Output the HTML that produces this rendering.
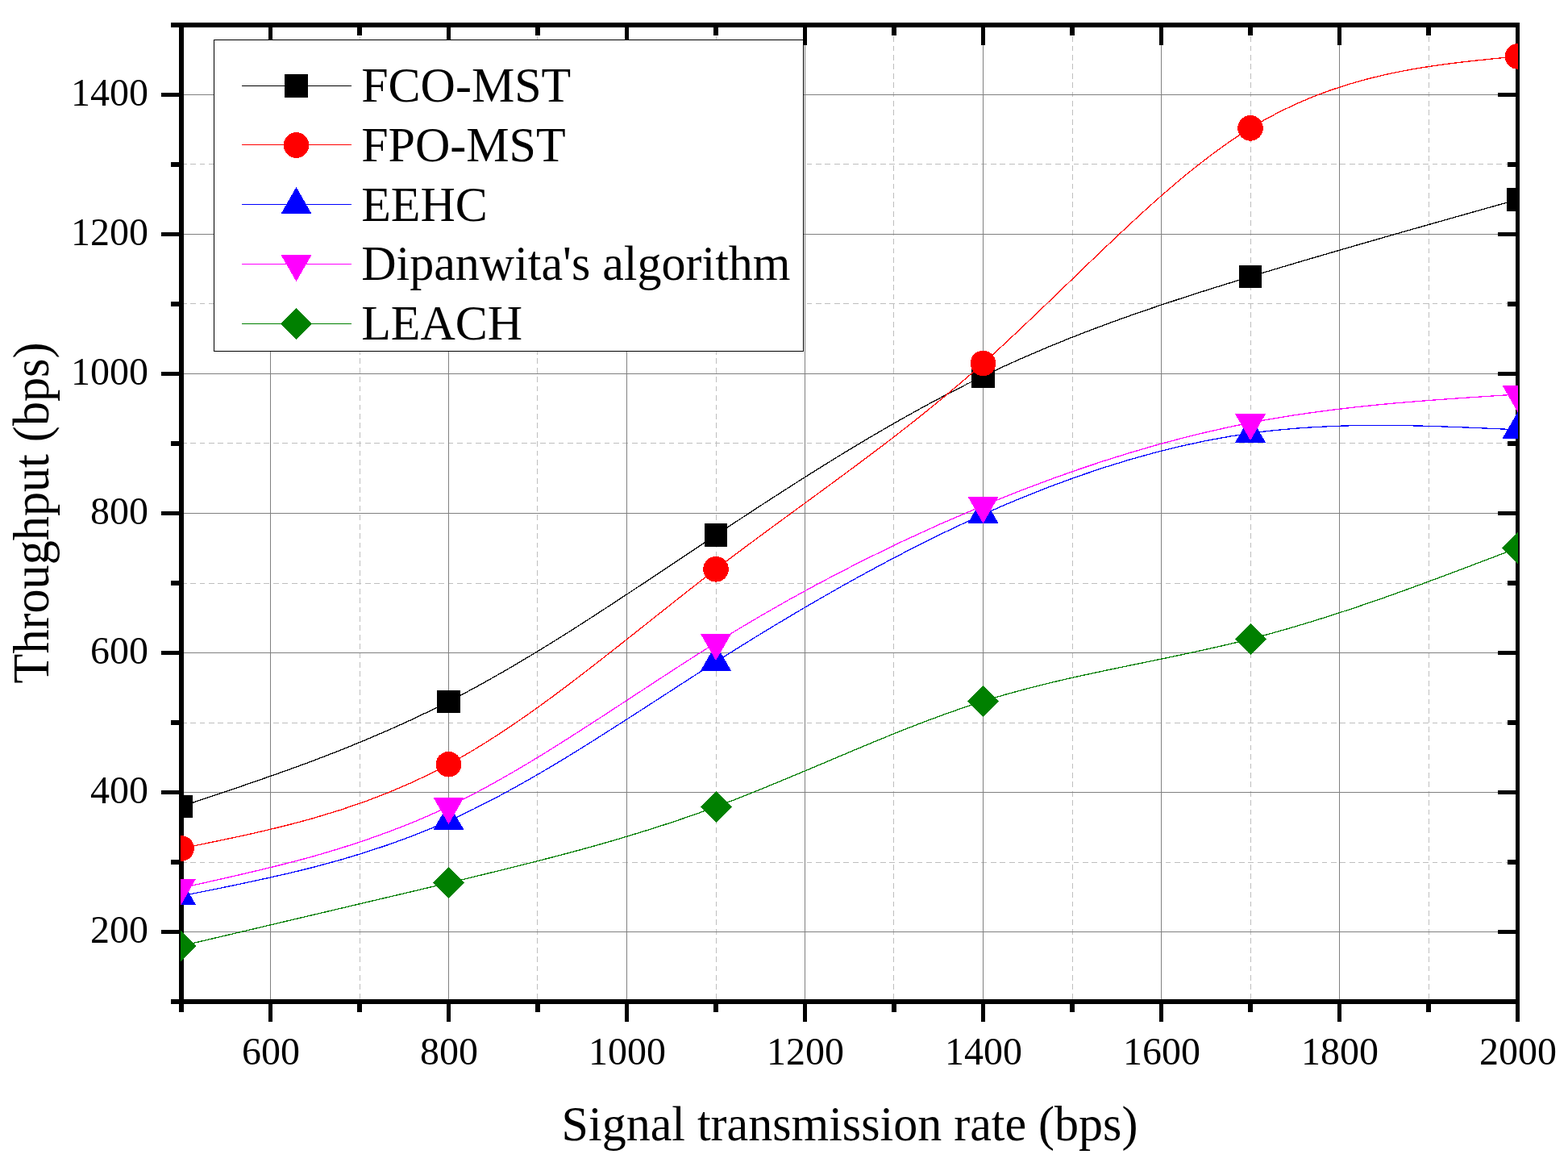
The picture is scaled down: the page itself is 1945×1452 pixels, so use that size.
<!DOCTYPE html>
<html lang="en"><head><meta charset="utf-8"><title>Throughput vs signal transmission rate</title>
<style>html,body{margin:0;padding:0;background:#fff}body{width:1945px;height:1452px;overflow:hidden}svg{display:block}text{font-family:"Liberation Serif","DejaVu Serif",serif;fill:#000}</style></head><body>
<svg width="1945" height="1452" viewBox="0 0 1945 1452">
<rect x="0" y="0" width="1945" height="1452" fill="#fff"/>
<defs><clipPath id="plot"><rect x="224" y="31" width="1659" height="1211"/></clipPath></defs>
<g shape-rendering="crispEdges">
<g stroke="#bebebe" stroke-width="1" stroke-dasharray="6.8 4.61" fill="none"><line x1="446.5" y1="33.7" x2="446.5" y2="1239" /><line x1="666.5" y1="33.7" x2="666.5" y2="1239" /><line x1="888.5" y1="33.7" x2="888.5" y2="1239" /><line x1="1108.5" y1="33.7" x2="1108.5" y2="1239" /><line x1="1330.5" y1="33.7" x2="1330.5" y2="1239" /><line x1="1551.5" y1="33.7" x2="1551.5" y2="1239" /><line x1="1772.5" y1="33.7" x2="1772.5" y2="1239" /><line x1="224.8" y1="1069.5" x2="1880" y2="1069.5" /><line x1="224.8" y1="896.5" x2="1880" y2="896.5" /><line x1="224.8" y1="723.5" x2="1880" y2="723.5" /><line x1="224.8" y1="549.5" x2="1880" y2="549.5" /><line x1="224.8" y1="376.5" x2="1880" y2="376.5" /><line x1="224.8" y1="203.5" x2="1880" y2="203.5" /></g>
<g fill="#808080"><rect x="335" y="34" width="1" height="1205"/><rect x="556" y="34" width="1" height="1205"/><rect x="777" y="34" width="1" height="1205"/><rect x="998" y="34" width="1" height="1205"/><rect x="1219" y="34" width="1" height="1205"/><rect x="1440" y="34" width="1" height="1205"/><rect x="1661" y="34" width="1" height="1205"/><rect x="228" y="1155" width="1652" height="1"/><rect x="228" y="982" width="1652" height="1"/><rect x="228" y="809" width="1652" height="1"/><rect x="228" y="636" width="1652" height="1"/><rect x="228" y="463" width="1652" height="1"/><rect x="228" y="290" width="1652" height="1"/><rect x="228" y="117" width="1652" height="1"/></g>
<g fill="#000"><rect x="222" y="28" width="1663" height="6"/><rect x="222" y="1239" width="1663" height="6"/><rect x="222" y="28" width="6" height="1217"/><rect x="1880" y="28" width="5" height="1217"/><rect x="222" y="1245" width="6" height="10"/><rect x="222" y="34" width="6" height="10"/><rect x="333" y="1245" width="5" height="22"/><rect x="333" y="34" width="5" height="22"/><rect x="443" y="1245" width="6" height="10"/><rect x="443" y="34" width="6" height="10"/><rect x="554" y="1245" width="5" height="22"/><rect x="554" y="34" width="5" height="22"/><rect x="664" y="1245" width="6" height="10"/><rect x="664" y="34" width="6" height="10"/><rect x="775" y="1245" width="5" height="22"/><rect x="775" y="34" width="5" height="22"/><rect x="885" y="1245" width="6" height="10"/><rect x="885" y="34" width="6" height="10"/><rect x="996" y="1245" width="5" height="22"/><rect x="996" y="34" width="5" height="22"/><rect x="1106" y="1245" width="6" height="10"/><rect x="1106" y="34" width="6" height="10"/><rect x="1217" y="1245" width="5" height="22"/><rect x="1217" y="34" width="5" height="22"/><rect x="1327" y="1245" width="6" height="10"/><rect x="1327" y="34" width="6" height="10"/><rect x="1438" y="1245" width="5" height="22"/><rect x="1438" y="34" width="5" height="22"/><rect x="1548" y="1245" width="6" height="10"/><rect x="1548" y="34" width="6" height="10"/><rect x="1659" y="1245" width="5" height="22"/><rect x="1659" y="34" width="5" height="22"/><rect x="1769" y="1245" width="6" height="10"/><rect x="1769" y="34" width="6" height="10"/><rect x="1880" y="1245" width="5" height="22"/><rect x="1880" y="34" width="5" height="22"/><rect x="212" y="1239" width="10" height="6"/><rect x="1870" y="1239" width="10" height="6"/><rect x="200" y="1153" width="22" height="5"/><rect x="1858" y="1153" width="22" height="5"/><rect x="212" y="1066" width="10" height="6"/><rect x="1870" y="1066" width="10" height="6"/><rect x="200" y="980" width="22" height="5"/><rect x="1858" y="980" width="22" height="5"/><rect x="212" y="893" width="10" height="6"/><rect x="1870" y="893" width="10" height="6"/><rect x="200" y="807" width="22" height="5"/><rect x="1858" y="807" width="22" height="5"/><rect x="212" y="720" width="10" height="6"/><rect x="1870" y="720" width="10" height="6"/><rect x="200" y="634" width="22" height="5"/><rect x="1858" y="634" width="22" height="5"/><rect x="212" y="547" width="10" height="6"/><rect x="1870" y="547" width="10" height="6"/><rect x="200" y="461" width="22" height="5"/><rect x="1858" y="461" width="22" height="5"/><rect x="212" y="374" width="10" height="6"/><rect x="1870" y="374" width="10" height="6"/><rect x="200" y="288" width="22" height="5"/><rect x="1858" y="288" width="22" height="5"/><rect x="212" y="201" width="10" height="6"/><rect x="1870" y="201" width="10" height="6"/><rect x="200" y="115" width="22" height="5"/><rect x="1858" y="115" width="22" height="5"/><rect x="212" y="28" width="10" height="6"/><rect x="1870" y="28" width="10" height="6"/></g>
</g>
<g clip-path="url(#plot)" shape-rendering="crispEdges">
<path d="M225.00,1000.00 C335.50,963.27 446.00,926.54 556.50,869.95 C667.00,813.36 777.50,736.90 888.00,663.50 C998.50,590.10 1109.00,519.76 1219.50,466.40 C1330.00,413.04 1440.50,376.66 1551.00,343.00 C1661.50,309.34 1772.00,278.39 1882.50,247.45" fill="none" stroke="#000000" stroke-width="1.3"/>
<rect x="210.75" y="985.75" width="28.50" height="28.50" fill="#000000"/><rect x="542.25" y="855.70" width="28.50" height="28.50" fill="#000000"/><rect x="873.75" y="649.25" width="28.50" height="28.50" fill="#000000"/><rect x="1205.25" y="452.15" width="28.50" height="28.50" fill="#000000"/><rect x="1536.75" y="328.75" width="28.50" height="28.50" fill="#000000"/><rect x="1868.85" y="233.20" width="28.50" height="28.50" fill="#000000"/>
<path d="M225.00,1051.97 C335.50,1029.74 446.00,1007.51 556.50,947.70 C667.00,887.89 777.50,790.50 888.00,705.80 C998.50,621.10 1109.00,549.08 1219.50,450.50 C1330.00,351.92 1440.50,226.76 1551.00,158.90 C1661.50,91.04 1772.00,80.47 1882.50,69.90" fill="none" stroke="#ff0000" stroke-width="1.3"/>
<circle cx="225.00" cy="1051.97" r="15.80" fill="#ff0000"/><circle cx="556.50" cy="947.70" r="15.80" fill="#ff0000"/><circle cx="888.00" cy="705.80" r="15.80" fill="#ff0000"/><circle cx="1219.50" cy="450.50" r="15.80" fill="#ff0000"/><circle cx="1551.00" cy="158.90" r="15.80" fill="#ff0000"/><circle cx="1882.50" cy="69.90" r="15.80" fill="#ff0000"/>
<path d="M225.00,1110.90 C335.50,1089.18 446.00,1067.46 556.50,1017.90 C667.00,968.34 777.50,890.95 888.00,820.70 C998.50,750.45 1109.00,687.34 1219.50,637.85 C1330.00,588.36 1440.50,552.48 1551.00,537.26 C1661.50,522.04 1772.00,527.48 1882.50,532.92" fill="none" stroke="#0000ff" stroke-width="1.3"/>
<polygon points="224.00,1088.90 243.00,1121.90 205.00,1121.90" fill="#0000ff"/><polygon points="556.50,995.90 575.50,1028.90 537.50,1028.90" fill="#0000ff"/><polygon points="888.00,798.70 907.00,831.70 869.00,831.70" fill="#0000ff"/><polygon points="1219.50,615.90 1238.50,648.90 1200.50,648.90" fill="#0000ff"/><polygon points="1551.00,515.80 1570.00,548.80 1532.00,548.80" fill="#0000ff"/><polygon points="1882.50,510.90 1901.50,543.90 1863.50,543.90" fill="#0000ff"/>
<path d="M225.00,1100.90 C335.50,1076.84 446.00,1052.78 556.50,1000.00 C667.00,947.22 777.50,865.72 888.00,797.10 C998.50,728.48 1109.00,672.74 1219.50,627.00 C1330.00,581.26 1440.50,545.53 1551.00,524.20 C1661.50,502.87 1772.00,495.93 1882.50,489.00" fill="none" stroke="#ff00ff" stroke-width="1.3"/>
<polygon points="224.00,1122.90 243.00,1089.90 205.00,1089.90" fill="#ff00ff"/><polygon points="556.50,1022.00 575.50,989.00 537.50,989.00" fill="#ff00ff"/><polygon points="888.00,819.10 907.00,786.10 869.00,786.10" fill="#ff00ff"/><polygon points="1219.50,649.00 1238.50,616.00 1200.50,616.00" fill="#ff00ff"/><polygon points="1551.00,546.20 1570.00,513.20 1532.00,513.20" fill="#ff00ff"/><polygon points="1882.50,511.00 1901.50,478.00 1863.50,478.00" fill="#ff00ff"/>
<path d="M225.00,1172.95 C335.50,1147.04 446.00,1121.14 556.50,1094.75 C667.00,1068.36 777.50,1041.49 888.00,1000.45 C998.50,959.41 1109.00,904.21 1219.50,869.50 C1330.00,834.79 1440.50,820.57 1551.00,792.30 C1661.50,764.03 1772.00,721.72 1882.50,679.40" fill="none" stroke="#008000" stroke-width="1.3"/>
<polygon points="224.30,1153.35 243.90,1172.95 224.30,1192.55 204.70,1172.95" fill="#008000"/><polygon points="556.50,1075.15 576.10,1094.75 556.50,1114.35 536.90,1094.75" fill="#008000"/><polygon points="888.50,980.85 908.10,1000.45 888.50,1020.05 868.90,1000.45" fill="#008000"/><polygon points="1219.50,849.90 1239.10,869.50 1219.50,889.10 1199.90,869.50" fill="#008000"/><polygon points="1551.50,772.70 1571.10,792.30 1551.50,811.90 1531.90,792.30" fill="#008000"/><polygon points="1882.50,659.80 1902.10,679.40 1882.50,699.00 1862.90,679.40" fill="#008000"/>
</g>
<rect x="265.5" y="49.5" width="731" height="386" fill="#fff" stroke="#000" stroke-width="1" shape-rendering="crispEdges"/>
<g shape-rendering="crispEdges">
<rect x="300" y="106" width="136" height="1" fill="#000000"/>
<rect x="353.25" y="92.25" width="28.50" height="28.50" fill="#000000"/>
<rect x="300" y="179" width="136" height="1" fill="#ff0000"/>
<circle cx="367.50" cy="180.00" r="15.80" fill="#ff0000"/>
<rect x="300" y="253" width="136" height="1" fill="#0000ff"/>
<polygon points="367.50,232.00 386.50,265.00 348.50,265.00" fill="#0000ff"/>
<rect x="300" y="327" width="136" height="1" fill="#ff00ff"/>
<polygon points="367.50,349.10 386.50,316.10 348.50,316.10" fill="#ff00ff"/>
<rect x="300" y="401" width="136" height="1" fill="#008000"/>
<polygon points="367.50,381.90 387.10,401.50 367.50,421.10 347.90,401.50" fill="#008000"/>
</g>
<text transform="translate(448.20,126.00) scale(1,1.02)" font-size="60" text-anchor="start">FCO-MST</text>
<text transform="translate(448.20,199.80) scale(1,1.02)" font-size="60" text-anchor="start">FPO-MST</text>
<text transform="translate(448.20,273.50) scale(1,1.02)" font-size="60" text-anchor="start">EEHC</text>
<text transform="translate(448.20,347.30) scale(1,1.02)" font-size="60" text-anchor="start">Dipanwita&#39;s algorithm</text>
<text transform="translate(448.20,421.00) scale(1,1.02)" font-size="60" text-anchor="start">LEACH</text>
<text transform="translate(184.00,1169.36) scale(1,1.013)" font-size="48" text-anchor="end">200</text>
<text transform="translate(184.00,996.34) scale(1,1.013)" font-size="48" text-anchor="end">400</text>
<text transform="translate(184.00,823.32) scale(1,1.013)" font-size="48" text-anchor="end">600</text>
<text transform="translate(184.00,650.30) scale(1,1.013)" font-size="48" text-anchor="end">800</text>
<text transform="translate(184.00,477.28) scale(1,1.013)" font-size="48" text-anchor="end">1000</text>
<text transform="translate(184.00,304.26) scale(1,1.013)" font-size="48" text-anchor="end">1200</text>
<text transform="translate(184.00,131.24) scale(1,1.013)" font-size="48" text-anchor="end">1400</text>
<text transform="translate(336.00,1319.50) scale(1,1.013)" font-size="48" text-anchor="middle">600</text>
<text transform="translate(557.00,1319.50) scale(1,1.013)" font-size="48" text-anchor="middle">800</text>
<text transform="translate(778.00,1319.50) scale(1,1.013)" font-size="48" text-anchor="middle">1000</text>
<text transform="translate(999.00,1319.50) scale(1,1.013)" font-size="48" text-anchor="middle">1200</text>
<text transform="translate(1220.00,1319.50) scale(1,1.013)" font-size="48" text-anchor="middle">1400</text>
<text transform="translate(1441.00,1319.50) scale(1,1.013)" font-size="48" text-anchor="middle">1600</text>
<text transform="translate(1662.00,1319.50) scale(1,1.013)" font-size="48" text-anchor="middle">1800</text>
<text transform="translate(1883.00,1319.50) scale(1,1.013)" font-size="48" text-anchor="middle">2000</text>
<text transform="translate(1054.00,1413.80) scale(1,1.02)" font-size="60" text-anchor="middle">Signal transmission rate (bps)</text>
<text transform="translate(60.00,635.90) rotate(-90) scale(1,1.04)" font-size="60.2" text-anchor="middle">Throughput (bps)</text>
</svg></body></html>
